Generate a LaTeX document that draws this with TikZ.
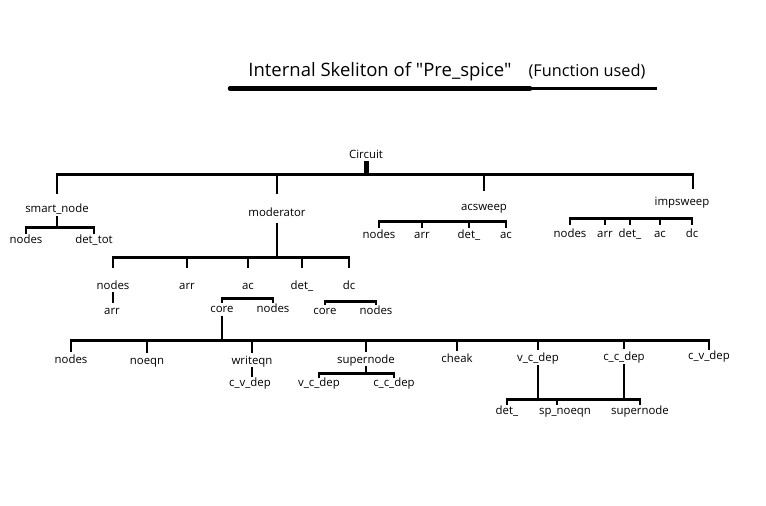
\documentclass[tikz,border=0pt]{standalone}
\usepackage{fontspec}
\setmainfont{Open Sans}
\newfontfamily\titlefont{Open Sans}
\usetikzlibrary{positioning}

\begin{document}
\begin{tikzpicture}[x=1pt, y=-1pt,
    bar/.style={line width=2.6pt},
    every node/.style={font=\fontsize{11.4}{13}\selectfont, inner sep=0.5pt, text height=8pt, text depth=2.5pt, yshift=-1.5pt}]
    \useasboundingbox (0,0) rectangle (766,506);
    \fill[white] (0,0) rectangle (766,506);

    % title
    \node (title) at (380,72) {\titlefont\fontsize{18.5}{22}\selectfont Internal Skeliton of "Pre\_spice"};
    \node (used) at (587,72) {\titlefont\fontsize{16.3}{19}\selectfont (Function used)};
    \coordinate (ulstart) at (230,87);
    \coordinate (ulmid) at (530,87);
    \coordinate (ulend) at (657,87);
    \draw[line width=4.5pt, line cap=round] (ulstart) -- (ulmid);
    \draw[line width=2.8pt] (ulmid) -- (ulend);

    % root
    \node (circuit) at (366,154) {Circuit};
    \coordinate (topbus) at (366,173);
    \draw[line width=5pt] (circuit) -- (topbus);

    \node (smartnode) at (57,208) {smart\_node};
    \node (moderator) at (277,212) {moderator};
    \node (acsweep) at (484,206) {acsweep};
    \node (impsweep) at (682,201) {impsweep};
    \draw[bar, shorten <=10pt, shorten >=8pt] (smartnode) |- (topbus) -| ([xshift=11pt]impsweep.north);
    \draw[bar, shorten <=14pt] (moderator) -- (moderator |- topbus);
    \draw[bar, shorten <=11pt] (acsweep) -- (acsweep |- topbus);

    % smart_node
    \node (snnodes) at (26,239) {nodes};
    \node (sndettot) at (94,239) {det\_tot};
    \coordinate (snbus) at (57,226);
    \draw[bar, shorten <=1pt] (smartnode) -- (snbus);
    \draw[bar, shorten <=1pt, shorten >=1pt] (snnodes) |- (snbus) -| (sndettot);

    % moderator
    \node (mdnodes) at (113,285) {nodes};
    \node (mdarr) at (187,285) {arr};
    \node (mdac) at (248,285) {ac};
    \node (mddet) at (302,285) {det\_};
    \node (mddc) at (349,285) {dc};
    \coordinate (mdbus) at (277,256);
    \draw[bar, shorten <=4pt] (moderator) -- (mdbus);
    \draw[bar, shorten <=13pt, shorten >=13pt] (mdnodes) |- (mdbus) -| (mddc);
    \foreach \n in {mdarr, mdac, mddet}
        \draw[bar, shorten <=13pt] (\n) -- (\n |- mdbus);

    \node (mdarrsub) at (112,310) {arr};
    \draw[bar, shorten <=0pt, shorten >=3pt] (mdnodes) -- (mdnodes |- mdarrsub.north);

    % ac and dc
    \node (accore) at (222,308) {core};
    \node (acnodes) at (273,308) {nodes};
    \coordinate (acbus) at (248,297);
    \draw[bar, shorten <=1pt, shorten >=1pt] (accore) |- (acbus) -| (acnodes);

    \node (dccore) at (325,310) {core};
    \node (dcnodes) at (376,310) {nodes};
    \coordinate (dcbus) at (349,300);
    \draw[bar, shorten <=1pt, shorten >=1pt] (dccore) |- (dcbus) -| (dcnodes);

    % core
    \node (crnodes) at (71,359) {nodes};
    \node (crnoeqn) at (147,360) {noeqn};
    \node (crwriteqn) at (252,360) {writeqn};
    \node (crsuper) at (366,359) {supernode};
    \node (crcheak) at (457,358) {cheak};
    \node (crvcdep) at (538,357) {v\_c\_dep};
    \node (crccdep) at (624,356) {c\_c\_dep};
    \node (crcvdep) at (709,355) {c\_v\_dep};
    \coordinate (corebus) at (222,339);
    \draw[bar, shorten <=1pt] (accore) -- (corebus);
    \draw[bar, shorten <=3pt, shorten >=1pt] (crnodes) |- (corebus) -| (crcvdep);
    \foreach \n in {crnoeqn, crwriteqn, crsuper, crcheak, crvcdep, crccdep}
        \draw[bar, shorten <=3pt] (\n) -- (\n |- corebus);

    % writeqn
    \node (wrcvdep) at (250,382) {c\_v\_dep};
    \draw[bar, shorten >=1pt] (crwriteqn) -- (crwriteqn |- wrcvdep.north);

    % supernode
    \node (spvcdep) at (319,382) {v\_c\_dep};
    \node (spccdep) at (394,382) {c\_c\_dep};
    \coordinate (spbus) at (366,372);
    \draw[bar] (crsuper) -- (spbus);
    \draw[bar] (spvcdep) |- (spbus) -| (spccdep);

    % v_c_dep and c_c_dep
    \node (btdet) at (507,410) {det\_};
    \node (btsp) at (565,410) {sp\_noeqn};
    \node (btsuper) at (640,410) {supernode};
    \coordinate (btbus) at (538,398);
    \draw[bar, shorten <=1pt, shorten >=1pt] (btdet) |- (btbus) -| (btsuper);
    \draw[bar] ([xshift=-8pt, yshift=1pt]btsp.north) -- ([xshift=-8pt]btsp.north |- btbus);
    \draw[bar, shorten <=1pt] (crvcdep) -- (btbus);
    \draw[bar, shorten <=1pt] (crccdep) -- (crccdep |- btbus);

    % acsweep
    \node (asnodes) at (379,234) {nodes};
    \node (asarr) at (422,234) {arr};
    \node (asdet) at (469,234) {det\_};
    \node (asac) at (506,234) {ac};
    \coordinate (asbus) at (440,220);
    \draw[bar, shorten <=2pt, shorten >=2pt] (asnodes) |- (asbus) -| (asac);
    \foreach \n in {asarr, asdet}
        \draw[bar, shorten <=2pt] (\n) -- (\n |- asbus);

    % impsweep
    \node (ipnodes) at (570,233) {nodes};
    \node (iparr) at (605,233) {arr};
    \node (ipdet) at (630,233) {det\_};
    \node (ipac) at (660,233) {ac};
    \node (ipdc) at (692,233) {dc};
    \coordinate (ipbus) at (630,217);
    \draw[bar, shorten <=4pt, shorten >=4pt] (ipnodes) |- (ipbus) -| (ipdc);
    \foreach \n in {iparr, ipdet, ipac}
        \draw[bar, shorten <=4pt] (\n) -- (\n |- ipbus);
\end{tikzpicture}
\end{document}
